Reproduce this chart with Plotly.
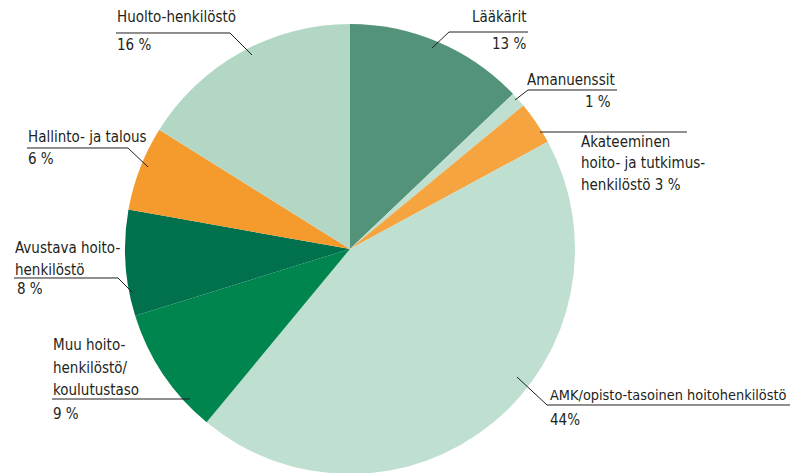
import plotly.graph_objects as go

# Data (clockwise from 12 o'clock)
categories = ["Lääkärit", "Amanuenssit", "Akateeminen hoito- ja tutkimushenkilöstö",
              "AMK/opisto-tasoinen hoitohenkilöstö", "Muu hoitohenkilöstö/koulutustaso",
              "Avustava hoitohenkilöstö", "Hallinto- ja talous", "Huolto-henkilöstö"]
values = [12.9, 1.1, 3.1, 43.9, 9.2, 7.6, 6.1, 16.1]
pct_labels = ["13 %", "1 %", "3 %", "44%", "9 %", "8 %", "6 %", "16 %"]
colors = ["#52937A", "#BFDFD1", "#F5A440", "#BFDFD1", "#00854F", "#00704D", "#F59B2E", "#B2D8C5"]

W, H = 798, 473
OFF = 8  # page body margin offset
FONT = "DejaVu Sans Condensed, Liberation Sans Narrow, Arial Narrow, sans-serif"
TXT = "#231F20"
FS = 15


def px(x):
    return (x - OFF) / W


def py(y):
    return 1 - (y - OFF) / H


cx, cy, r = 350, 249, 225
fig = go.Figure(go.Pie(
    labels=categories, values=values, sort=False, direction="clockwise", rotation=0,
    marker=dict(colors=colors, line=dict(width=0)),
    textinfo="none", hoverinfo="label+percent", showlegend=False,
    domain=dict(x=[0, px(cx) * 2], y=[py(cy + r), py(cy - r)]),
))

annotations = []


def text(x, y, s, anchor="left", size=FS):
    annotations.append(dict(x=px(x), y=py(y), xref="paper", yref="paper", text=s,
                            showarrow=False, xanchor=anchor, yanchor="middle",
                            font=dict(family=FONT, size=size, color=TXT)))


text(115, 17, categories[7])
text(115, 45, pct_labels[7])
text(528, 17, categories[0], "right")
text(528, 44, pct_labels[0], "right")
text(617, 80, categories[1], "right")
text(613, 102, pct_labels[1], "right")
text(579, 142, "Akateeminen")
text(579, 163, "hoito- ja tutkimus-")
text(579, 185, "henkilöstö " + pct_labels[2])
text(548, 395, categories[3], size=14.4)
text(548, 420, pct_labels[3])
text(51, 345, "Muu hoito-")
text(51, 368, "henkilöstö/")
text(51, 390, "koulutustaso")
text(51, 414, pct_labels[4])
text(13, 248, "Avustava hoito-")
text(13, 270, "henkilöstö")
text(15, 289, pct_labels[5])
text(26, 137, categories[6])
text(26, 159, pct_labels[6])

leaders = [
    [(116, 33), (230, 33), (252, 55)],
    [(528, 32), (449, 32), (432, 48)],
    [(617, 90), (528, 90), (515, 100)],
    [(687, 132), (540, 132)],
    [(790, 405), (547, 405), (517, 377)],
    [(52, 399), (190, 399)],
    [(14, 278), (118, 278), (133, 293)],
    [(27, 148), (128, 148), (148, 167)],
]
shapes = []
for pts in leaders:
    path = "M " + " L ".join(f"{px(x):.5f},{py(y):.5f}" for x, y in pts)
    shapes.append(dict(type="path", path=path, xref="paper", yref="paper",
                       line=dict(color=TXT, width=1)))

fig.update_layout(width=W, height=H, margin=dict(l=0, r=0, t=0, b=0),
                  paper_bgcolor="white", plot_bgcolor="white",
                  annotations=annotations, shapes=shapes)

fig.write_html("out.html")
